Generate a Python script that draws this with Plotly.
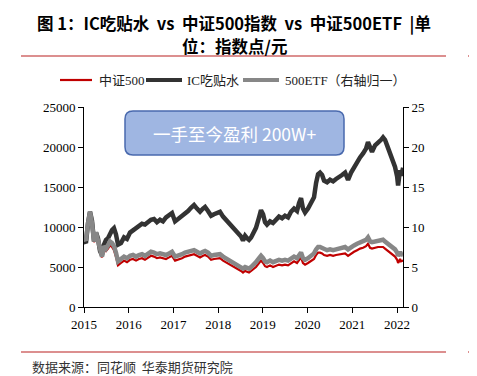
import plotly.graph_objects as go

dates = [
    "2015-01-01", "2015-01-17", "2015-02-03", "2015-02-19", "2015-03-07", "2015-03-24", "2015-04-09", "2015-04-25",
    "2015-05-12", "2015-05-28", "2015-06-13", "2015-06-30", "2015-07-16", "2015-08-01", "2015-08-18", "2015-09-03",
    "2015-09-19", "2015-10-06", "2015-10-30", "2015-11-24", "2015-12-18", "2016-01-12", "2016-02-05", "2016-03-01",
    "2016-03-25", "2016-04-19", "2016-05-13", "2016-06-07", "2016-07-01", "2016-07-26", "2016-08-19", "2016-09-13",
    "2016-10-07", "2016-11-01", "2016-11-26", "2016-12-20", "2017-01-14", "2017-02-07", "2017-03-12", "2017-04-05",
    "2017-04-30", "2017-05-24", "2017-06-18", "2017-07-12", "2017-08-06", "2017-08-30", "2017-09-16", "2017-10-10",
    "2017-11-04", "2017-11-28", "2017-12-23", "2018-01-16", "2018-02-10", "2018-03-06", "2018-03-31", "2018-04-24",
    "2018-05-19", "2018-06-12", "2018-07-07", "2018-07-23", "2018-08-09", "2018-08-25", "2018-09-10", "2018-09-27",
    "2018-10-13", "2018-11-06", "2018-12-01", "2018-12-17", "2019-01-03", "2019-01-19", "2019-02-04", "2019-03-01",
    "2019-03-25", "2019-04-19", "2019-05-13", "2019-06-07", "2019-07-01", "2019-07-26", "2019-08-19", "2019-09-13",
    "2019-10-07", "2019-10-24", "2019-11-09", "2019-11-25", "2019-12-12", "2020-01-05", "2020-01-30", "2020-02-23",
    "2020-03-11", "2020-03-27", "2020-04-12", "2020-04-29", "2020-05-15", "2020-06-09", "2020-07-03", "2020-07-28",
    "2020-08-21", "2020-09-15", "2020-10-09", "2020-11-03", "2020-11-27", "2020-12-22", "2021-01-15", "2021-02-09",
    "2021-03-05", "2021-03-30", "2021-04-23", "2021-05-09", "2021-05-26", "2021-06-11", "2021-07-06", "2021-07-30",
    "2021-08-24", "2021-09-09", "2021-09-25", "2021-10-12", "2021-10-28", "2021-11-13", "2021-11-30", "2021-12-16",
    "2022-01-02", "2022-01-10", "2022-01-18", "2022-01-26", "2022-02-03", "2022-02-20",
]

csi500 = [
    8500, 8200, 10400, 11800, 10400, 8100, 9200, 8300, 6800, 6200, 7400, 7000, 7300, 7700, 7500, 7100,
    6300, 5200, 5500, 5800, 5600, 5900, 6000, 5800, 6000, 6100, 5900, 6200, 6400, 6300, 6100, 6200,
    6100, 6000, 6200, 6400, 5800, 5900, 6100, 6300, 6400, 6500, 6600, 6400, 6200, 6400, 6500, 6300,
    5900, 6000, 6100, 6100, 5800, 5600, 5400, 5200, 5000, 4700, 4500, 4300, 4500, 4400, 4300, 4500,
    4700, 5000, 5500, 5800, 5500, 5100, 5000, 5200, 5000, 5200, 5300, 5200, 5300, 5200, 5500, 5700,
    5500, 5900, 6200, 5500, 5300, 5500, 5800, 6000, 6500, 6800, 6800, 6700, 6500, 6400, 6500, 6400,
    6500, 6600, 6600, 6700, 6400, 6700, 6900, 7100, 7300, 7400, 7600, 7900, 7400, 7300, 7400, 7500,
    7500, 7500, 7300, 7100, 6900, 6700, 6500, 6300, 5900, 5500, 5700, 6000, 5700, 5800,
]

ic_roll = [
    8300, 8000, 10500, 11900, 10800, 8200, 9300, 8600, 7000, 6500, 7800, 8400, 8600, 9200, 9600, 9850,
    9100, 7800, 8000, 8700, 8500, 9300, 9600, 9900, 10200, 10400, 10300, 10700, 10900, 11000, 10600, 10900,
    10700, 11200, 11500, 11750, 10700, 11000, 11300, 11700, 12000, 12400, 12750, 12300, 11900, 12300, 12500, 12000,
    11400, 11600, 11800, 11900, 11300, 10900, 10500, 10200, 9800, 9300, 8800, 8300, 8900, 8600, 8400, 8700,
    9200, 9900, 11200, 12100, 11600, 10600, 10300, 10700, 10500, 11000, 11300, 11100, 11400, 11200, 11900, 12300,
    12000, 13000, 13600, 12300, 11800, 12300, 12900, 13700, 15500, 16600, 16800, 16500, 15800, 15600, 15900, 15700,
    16000, 16200, 16500, 16800, 15900, 16800, 17500, 18200, 18700, 19200, 19800, 20600, 19900, 19400, 20200, 20500,
    20900, 21200, 20900, 20200, 19600, 18800, 18400, 17500, 16300, 15200, 16200, 17100, 16400, 17400,
]

etf500 = [
    8.6, 8.3, 10.5, 11.9, 10.5, 8.2, 9.3, 8.4, 6.9, 6.3, 7.6, 7.3, 7.7, 8.2, 8.0, 7.6,
    6.8, 5.7, 6.0, 6.3, 6.1, 6.4, 6.5, 6.3, 6.5, 6.6, 6.4, 6.7, 6.9, 6.8, 6.6, 6.7,
    6.6, 6.5, 6.7, 6.9, 6.3, 6.4, 6.6, 6.8, 6.9, 7.0, 7.1, 6.9, 6.7, 6.9, 7.0, 6.8,
    6.4, 6.5, 6.6, 6.6, 6.3, 6.1, 5.9, 5.7, 5.5, 5.2, 5.0, 4.8, 5.0, 4.9, 4.8, 5.0,
    5.2, 5.6, 6.1, 6.4, 6.1, 5.7, 5.6, 5.8, 5.6, 5.8, 5.9, 5.8, 5.9, 5.8, 6.1, 6.3,
    6.1, 6.5, 6.8, 6.1, 5.9, 6.1, 6.4, 6.7, 7.2, 7.5, 7.5, 7.4, 7.2, 7.1, 7.2, 7.1,
    7.2, 7.3, 7.4, 7.5, 7.2, 7.5, 7.7, 7.9, 8.1, 8.2, 8.4, 8.7, 8.2, 8.1, 8.2, 8.3,
    8.4, 8.4, 8.2, 8.0, 7.8, 7.6, 7.4, 7.2, 6.8, 6.4, 6.6, 6.9, 6.6, 6.5,
]

left_ticks = [0, 5000, 10000, 15000, 20000, 25000]
left_labels = ["0", "5000", "10000", "15000", "20000", "25000"]
right_ticks = [0, 5, 10, 15, 20, 25]
year_ticks = ["2015-01-01", "2016-01-01", "2017-01-01", "2018-01-01", "2019-01-01",
              "2020-01-01", "2021-01-01", "2022-01-01"]
year_labels = ["2015", "2016", "2017", "2018", "2019", "2020", "2021", "2022"]

series_names = ["中证500", "IC吃贴水", "500ETF（右轴归一）"]
series_colors = ["#C00000", "#333333", "#878787"]
series_widths = [2.2, 4.5, 4.5]

SERIF = "Liberation Serif, Times New Roman, Noto Sans CJK SC, serif"
SANS = "Noto Sans CJK SC, Noto Sans, sans-serif"

# page body adds an 8px offset; figure is sized so it fits the window
OFF = 8
FIG_W, FIG_H = 477 - OFF, 376 - OFF
PL, PT, PW, PH = 84 - OFF, 107 - OFF, 319, 200

fig = go.Figure()
fig.add_trace(go.Scatter(x=dates, y=csi500, name=series_names[0], mode="lines",
                         line=dict(color=series_colors[0], width=series_widths[0])))
fig.add_trace(go.Scatter(x=dates, y=ic_roll, name=series_names[1], mode="lines",
                         line=dict(color=series_colors[1], width=series_widths[1])))
fig.add_trace(go.Scatter(x=dates, y=etf500, name=series_names[2], mode="lines",
                         line=dict(color=series_colors[2], width=series_widths[2]), yaxis="y2"))

axis_common = dict(showline=True, linecolor="black", linewidth=1, ticks="outside",
                   ticklen=5, tickcolor="black", showgrid=False, zeroline=False,
                   tickfont=dict(family=SERIF, size=13, color="black"))

fig.update_layout(
    width=FIG_W, height=FIG_H,
    margin=dict(l=PL, r=FIG_W - PL - PW, t=PT, b=FIG_H - PT - PH),
    paper_bgcolor="white", plot_bgcolor="white",
    showlegend=False,
    xaxis=dict(type="date", range=["2015-01-01", "2022-02-19"], tickvals=year_ticks,
               ticktext=year_labels, **axis_common),
    yaxis=dict(range=[0, 25000], tickvals=left_ticks, ticktext=left_labels, **axis_common),
    yaxis2=dict(range=[0, 25], tickvals=right_ticks, overlaying="y", side="right",
                **axis_common),
)

# helpers: reference-window pixels -> paper coordinates
def px(x):
    return (x - OFF - PL) / PW
def py(y):
    return (PT + PH - (y - OFF)) / PH

# manual legend
leg_y = py(80)
leg_items = [(60, 92, 97), (146, 182, 185), (243, 279, 283)]
for (lx0, lx1, tx), name, col, wd in zip(leg_items, series_names, series_colors, series_widths):
    fig.add_shape(type="line", xref="paper", yref="paper", x0=px(lx0), x1=px(lx1),
                  y0=leg_y, y1=leg_y, line=dict(color=col, width=wd if wd < 3 else 4))
    fig.add_annotation(x=px(tx), y=leg_y, xref="paper", yref="paper", xanchor="left",
                       yanchor="middle", showarrow=False, text=name,
                       font=dict(family=SERIF, size=13, color="#222"))

# rounded callout box
x0, x1, y0, y1 = px(125), px(344), py(155), py(111)
rx, ry = 8 / PW, 8 / PH
path = (f"M {x0+rx},{y1} L {x1-rx},{y1} Q {x1},{y1} {x1},{y1-ry} "
        f"L {x1},{y0+ry} Q {x1},{y0} {x1-rx},{y0} L {x0+rx},{y0} "
        f"Q {x0},{y0} {x0},{y0+ry} L {x0},{y1-ry} Q {x0},{y1} {x0+rx},{y1} Z")
fig.add_shape(type="path", path=path, xref="paper", yref="paper",
              fillcolor="#9fb6e2", line=dict(color="#4a6aae", width=1.5), layer="above")
fig.add_annotation(x=px(234.5), y=py(133), xref="paper", yref="paper",
                   xanchor="center", yanchor="middle",
                   text="一手至今盈利 200W+", showarrow=False,
                   font=dict(family=SANS, size=17.5, color="white"))

# title (two lines) & separators
fig.add_annotation(x=px(234), y=py(23), xref="paper", yref="paper", xanchor="center",
                   yanchor="middle", showarrow=False,
                   text="<b>图 1：IC吃贴水  vs  中证500指数  vs  中证500ETF  |单</b>",
                   font=dict(family=SANS, size=16.5, color="black"))
fig.add_annotation(x=px(234), y=py(46), xref="paper", yref="paper", xanchor="center",
                   yanchor="middle", showarrow=False,
                   text="<b>位：指数点/元</b>",
                   font=dict(family=SANS, size=16.5, color="black"))
for yy in (py(56), py(352)):
    fig.add_shape(type="line", xref="paper", yref="paper", x0=px(21), x1=px(446),
                  y0=yy, y1=yy, line=dict(color="#d06a6a", width=1.5))
    fig.add_shape(type="line", xref="paper", yref="paper", x0=px(468), x1=px(480),
                  y0=yy, y1=yy, line=dict(color="#d06a6a", width=1.5))
fig.add_annotation(x=px(30), y=py(366), xref="paper", yref="paper", xanchor="left",
                   yanchor="middle", showarrow=False, text="数据来源：同花顺  华泰期货研究院",
                   font=dict(family=SANS, size=13, color="#333"))

fig.write_html("out.html")
